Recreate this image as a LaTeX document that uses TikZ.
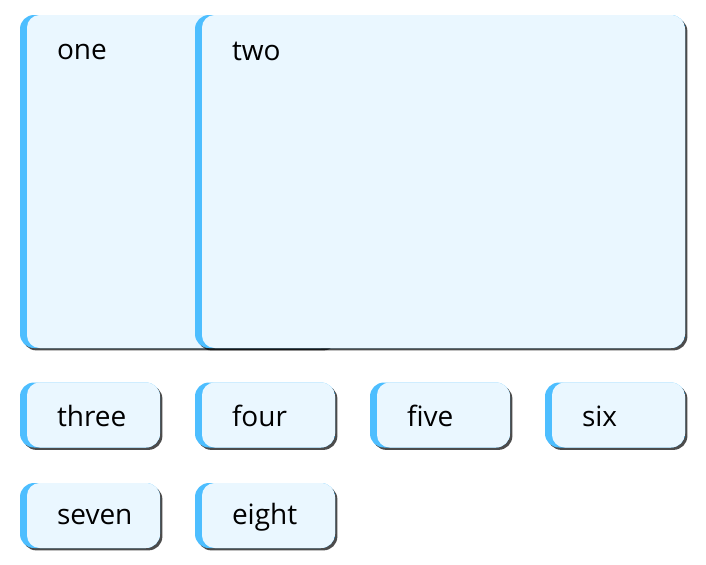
\documentclass[tikz,border=0pt]{standalone}
\usepackage{fontspec}
\setmainfont{Open Sans}
\usetikzlibrary{shadows}

\definecolor{cardblue}{RGB}{77,190,255}
\definecolor{cardbg}{RGB}{234,247,255}

\tikzset{
	card/.style={shape=rectangle, rounded corners=10.5pt, fill=cardblue, inner sep=0pt,
		drop shadow={shadow xshift=1.8pt, shadow yshift=-1.8pt, opacity=0.7, fill=black},
		path picture={\fill[cardbg, rounded corners=9.5pt]
			([xshift=5.25pt]path picture bounding box.south west) rectangle (path picture bounding box.north east);}},
	small/.style={card, minimum width=105pt, minimum height=48.75pt},
	label/.style={anchor=west, inner sep=0pt, font=\fontsize{21}{24}\selectfont},
}

\begin{document}
\begin{tikzpicture}[x=0.75pt, y=-0.75pt]
	\useasboundingbox (0, 0) rectangle (706, 564);

	\node[card, minimum width=236.25pt, minimum height=249.75pt] (one) at (177.5, 181.5) {};
	\node[card, minimum width=367.5pt, minimum height=249.75pt] (two) at (440, 181.5) {};
	\node[small] (three) at (90, 415)    {};
	\node[small] (four)  at (265, 415)   {};
	\node[small] (five)  at (440, 415)   {};
	\node[small] (six)   at (615, 415)   {};
	\node[small] (seven) at (90, 515.5)  {};
	\node[small] (eight) at (265, 515.5) {};

	\node[label] (onetext)   at ([xshift=27.75pt, yshift=-27.75pt]one.north west) {one};
	\node[label] (twotext)   at ([xshift=27.75pt, yshift=-27.75pt]two.north west) {two};
	\node[label] (threetext) at ([xshift=27.75pt, yshift=-1pt]three.west) {three};
	\node[label] (fourtext)  at ([xshift=27.75pt, yshift=-1pt]four.west)  {four};
	\node[label] (fivetext)  at ([xshift=27.75pt, yshift=-1pt]five.west)  {five};
	\node[label] (sixtext)   at ([xshift=27.75pt, yshift=-1pt]six.west)   {six};
	\node[label] (seventext) at ([xshift=27.75pt, yshift=-1pt]seven.west) {seven};
	\node[label] (eighttext) at ([xshift=27.75pt, yshift=-1pt]eight.west) {eight};

\end{tikzpicture}
\end{document}
